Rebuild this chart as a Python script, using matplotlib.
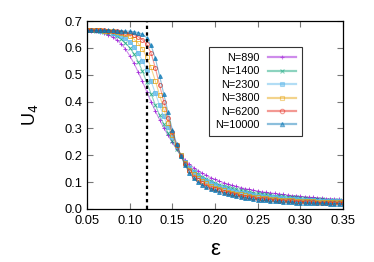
import numpy as np
import matplotlib
matplotlib.use("Agg")
import matplotlib.pyplot as plt

plt.rcParams['font.family'] = ['Liberation Sans', 'DejaVu Sans']

# epsilon grid, 0.05 .. 0.35 in steps of 0.005
eps = np.round(np.arange(0.05, 0.3501, 0.005), 3)

u_890 = [0.664, 0.663, 0.661, 0.658, 0.654, 0.648, 0.640, 0.629, 0.615, 0.596,
         0.571, 0.543, 0.510, 0.475, 0.437, 0.400, 0.365, 0.333, 0.302, 0.274,
         0.248, 0.223, 0.200, 0.182, 0.167, 0.154, 0.143, 0.134, 0.125, 0.117,
         0.110, 0.104, 0.098, 0.093, 0.088, 0.084, 0.080, 0.076, 0.073, 0.070,
         0.067, 0.064, 0.062, 0.060, 0.058, 0.056, 0.054, 0.052, 0.050, 0.049,
         0.047, 0.046, 0.044, 0.043, 0.042, 0.040, 0.039, 0.038, 0.037, 0.036,
         0.035]
u_1400 = [0.665, 0.665, 0.664, 0.662, 0.660, 0.656, 0.651, 0.643, 0.633, 0.619,
          0.601, 0.578, 0.549, 0.513, 0.472, 0.430, 0.388, 0.350, 0.316, 0.283,
          0.252, 0.223, 0.197, 0.176, 0.158, 0.143, 0.131, 0.121, 0.112, 0.104,
          0.097, 0.091, 0.086, 0.081, 0.077, 0.073, 0.069, 0.066, 0.063, 0.060,
          0.058, 0.056, 0.054, 0.052, 0.050, 0.048, 0.047, 0.045, 0.044, 0.043,
          0.041, 0.040, 0.039, 0.038, 0.037, 0.036, 0.035, 0.034, 0.033, 0.032,
          0.031]
u_2300 = [0.665, 0.665, 0.665, 0.664, 0.663, 0.661, 0.657, 0.652, 0.645, 0.636,
          0.623, 0.605, 0.580, 0.552, 0.518, 0.477, 0.432, 0.387, 0.345, 0.305,
          0.268, 0.233, 0.200, 0.174, 0.153, 0.136, 0.123, 0.112, 0.103, 0.095,
          0.088, 0.082, 0.077, 0.072, 0.068, 0.064, 0.061, 0.058, 0.055, 0.052,
          0.050, 0.048, 0.046, 0.044, 0.043, 0.041, 0.040, 0.038, 0.037, 0.036,
          0.035, 0.034, 0.033, 0.032, 0.031, 0.030, 0.030, 0.029, 0.028, 0.028,
          0.027]
u_3800 = [0.665, 0.665, 0.665, 0.665, 0.664, 0.663, 0.661, 0.659, 0.656, 0.651,
          0.644, 0.633, 0.617, 0.595, 0.566, 0.527, 0.478, 0.425, 0.372, 0.322,
          0.277, 0.237, 0.200, 0.170, 0.147, 0.129, 0.115, 0.104, 0.095, 0.087,
          0.080, 0.075, 0.070, 0.065, 0.061, 0.057, 0.054, 0.051, 0.048, 0.046,
          0.044, 0.042, 0.040, 0.038, 0.037, 0.035, 0.034, 0.033, 0.032, 0.031,
          0.030, 0.029, 0.029, 0.028, 0.027, 0.027, 0.026, 0.026, 0.025, 0.025,
          0.025]
u_6200 = [0.665, 0.665, 0.665, 0.665, 0.665, 0.664, 0.664, 0.662, 0.660, 0.657,
          0.654, 0.649, 0.641, 0.630, 0.613, 0.582, 0.526, 0.462, 0.400, 0.340,
          0.285, 0.240, 0.199, 0.166, 0.140, 0.121, 0.107, 0.096, 0.087, 0.080,
          0.074, 0.069, 0.064, 0.060, 0.056, 0.052, 0.049, 0.046, 0.044, 0.041,
          0.039, 0.037, 0.036, 0.034, 0.033, 0.031, 0.030, 0.029, 0.028, 0.027,
          0.027, 0.026, 0.025, 0.025, 0.024, 0.024, 0.023, 0.023, 0.022, 0.022,
          0.022]
u_10000 = [0.665, 0.665, 0.665, 0.665, 0.665, 0.665, 0.665, 0.664, 0.664, 0.663,
           0.662, 0.660, 0.657, 0.651, 0.638, 0.610, 0.562, 0.497, 0.428, 0.360,
           0.296, 0.243, 0.198, 0.162, 0.134, 0.114, 0.100, 0.090, 0.082, 0.076,
           0.070, 0.065, 0.060, 0.056, 0.052, 0.048, 0.045, 0.042, 0.040, 0.037,
           0.035, 0.033, 0.032, 0.030, 0.029, 0.028, 0.027, 0.026, 0.025, 0.024,
           0.024, 0.023, 0.022, 0.022, 0.021, 0.021, 0.021, 0.020, 0.020, 0.020,
           0.020]

labels = ['N=890', 'N=1400', 'N=2300', 'N=3800', 'N=6200', 'N=10000']
eps_c = 0.12

series = [u_890, u_1400, u_2300, u_3800, u_6200, u_10000]
colors = ['#9400d3', '#009e73', '#56b4e9', '#e69f00', '#e51e10', '#0072b2']
markers = ['+', 'x', 's', 's', 'o', '^']
filled = [True, True, True, False, False, True]

fig = plt.figure(figsize=(3.74, 2.62), dpi=100)
ax = fig.add_axes([0.2326, 0.2023, 0.6845, 0.7175])

for y, c, m, f, lab in zip(series, colors, markers, filled, labels):
    ax.plot(eps, y, '-', color=c, lw=0.8, alpha=0.45)
    ax.plot(eps, y, linestyle='none', marker=m, ms=2.8, mew=0.7, color=c,
            mfc=c if f else 'none', alpha=0.7)
    # proxy for the legend
    ax.plot([], [], '-', color=c, lw=1.6, alpha=0.45, label=lab)

ax.axvline(eps_c, color='black', lw=1.6, ls=(0, (1.5, 1.5)))

ax.set_xlim(0.05, 0.35)
ax.set_ylim(0.0, 0.7)
ax.set_xticks(np.arange(0.05, 0.351, 0.05))
ax.set_xticklabels([f'{v:.2f}' for v in np.arange(0.05, 0.351, 0.05)])
ax.set_yticks(np.arange(0.0, 0.71, 0.1))
ax.set_yticklabels([f'{v:.1f}' for v in np.arange(0.0, 0.71, 0.1)])
ax.tick_params(direction='in', length=4, width=0.8, color='#777777',
               top=True, right=True, labelsize=9.3)
ax.tick_params(axis='x', pad=4)
ax.tick_params(axis='y', pad=3)
for s in ax.spines.values():
    s.set_linewidth(0.9)

ax.set_xlabel('ε', fontsize=16, labelpad=9)
ax.set_ylabel('U$_4$', fontsize=13, labelpad=18)

leg = ax.legend(loc='upper left', bbox_to_anchor=(0.477, 0.862), borderaxespad=0,
                fontsize=7.8, markerfirst=False, handlelength=2.6,
                labelspacing=0.32, handletextpad=0.8, borderpad=0.55,
                fancybox=False, edgecolor='#333333', framealpha=1)
leg.get_frame().set_linewidth(0.8)
# legend markers drawn on top of the pale legend lines
for h, c, m, f in zip(leg.legend_handles, colors, markers, filled):
    h.set_marker(m)
    h.set_markersize(3.2)
    h.set_markeredgewidth(0.8)
    h.set_markeredgecolor(c)
    h.set_markerfacecolor(c if f else 'none')

plt.savefig('out.png', dpi=100)
